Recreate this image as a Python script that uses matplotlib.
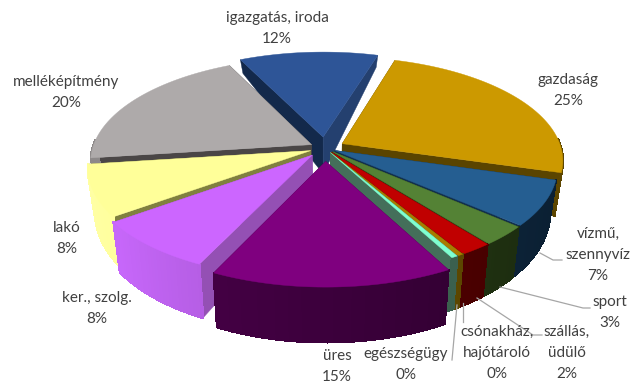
import numpy as np
import matplotlib
matplotlib.use('Agg')
import matplotlib.pyplot as plt
from matplotlib.collections import PolyCollection
from matplotlib.colors import to_rgb

plt.rcParams['font.family'] = ['Lato', 'DejaVu Sans']

# data, clockwise starting from the top slice
names = ['igazgatás, iroda', 'gazdaság', 'vízmű,\nszennyvíz', 'sport', 'szállás,\nüdülő',
         'csónakház,\nhajótároló', 'egészségügy', 'üres', 'ker., szolg.', 'lakó', 'melléképítmény']
values = [12, 25, 7, 3, 2, 0.4, 0.4, 15, 8, 8, 20]
pct_labels = ['12%', '25%', '7%', '3%', '2%', '0%', '0%', '15%', '8%', '8%', '20%']

# styles
top_colors = ['#2E5597', '#CC9900', '#255E91', '#548235', '#C00000', '#A87C00',
              '#7FFFD0', '#7F007F', '#CC66FF', '#FFFF99', '#AEAAAA']
wall_colors = ['#1A3563', '#7F6000', '#0F2B45', '#253A14', '#570000', '#6B5200',
               '#446F5A', '#3C003C', '#A254CC', '#E0DC80', '#6E6B6B']
start_face = ['#13294B', '#5A4400', '#12304C', '#2B4418', '#570000', '#6B5200',
              '#446F5A', '#3C003C', '#9450B4', '#80803F', '#4A4646']
end_face = ['#24406F', '#5A4400', '#12304C', '#2B4418', '#570000', '#6B5200',
            '#446F5A', '#3C003C', '#9450B4', '#80803F', '#4A4646']
explode = [0.11, 0.09, 0.05, 0.05, 0.05, 0.05, 0.05, 0.13, 0.09, 0.07, 0.07]
draw_order = [0, 10, 1, 9, 2, 3, 4, 5, 6, 8, 7]

# projection of the tilted disc
CX, CY = 325, 148
A, B = 219, 101.4
PERSP = 0.156
BOTTOM_SHRINK = 0.97
START_ANGLE = -26

# label centre x, first line y
label_pos = [(277, 18), (568, 80), (598, 234), (610, 302), (567, 332), (497, 332),
             (406, 354), (337, 356), (97, 298), (67, 228), (66, 82)]
LINE_H = 20.8
leaders = [[(540, 253), (553, 260), (562, 260)],
           [(500, 287), (583, 308), (590, 308)],
           [(477, 298), (533, 335), (542, 335)],
           [(463, 303), (463, 322)],
           [(457, 305), (452, 360)]]


def project(u, v, bottom=False):
    w = 1 + PERSP * v
    sx = A * u / w
    sy = -B * v / w
    if bottom:
        # side height shrinks quickly towards the back of the pie
        depth = 39 - 20 * v - 5 * v ** 2
        return CX + sx * BOTTOM_SHRINK, CY + sy + depth
    return CX + sx, CY + sy


def rim(th, off):
    return off[0] + np.sin(th), off[1] + np.cos(th)


def shade(color, f):
    return tuple(min(1, c * f) for c in to_rgb(color))


fig = plt.figure(figsize=(6.38, 3.87), dpi=100)
ax = fig.add_axes([0, 0, 1, 1])
ax.set_xlim(0, 638)
ax.set_ylim(387, 0)
ax.axis('off')

total = sum(values)
edges = START_ANGLE + np.cumsum([0] + values) / total * 360

for k, i in enumerate(draw_order):
    t0, t1 = np.radians(edges[i]), np.radians(edges[i + 1])
    mid = (t0 + t1) / 2
    off = (explode[i] * np.sin(mid), explode[i] * np.cos(mid))
    z = 2 + k
    # the two cut faces
    for th, col in ((t0, start_face[i]), (t1, end_face[i])):
        ru, rv = rim(th, off)
        pts = [project(off[0], off[1]), project(ru, rv),
               project(ru, rv, True), project(off[0], off[1], True)]
        ax.fill(*zip(*pts), color=col, lw=0.3, zorder=z)
    # outer wall as thin strips so it can get darker to the right, front part only
    th = np.linspace(t0, t1, max(3, int(np.degrees(t1 - t0)) + 2))
    strips = []
    cols = []
    for a, b in zip(th[:-1], th[1:]):
        if np.cos((a + b) / 2) > 0.05:
            continue
        ua, va = rim(a, off)
        ub, vb = rim(b, off)
        strips.append([project(ua, va), project(ub, vb),
                       project(ub, vb, True), project(ua, va, True)])
        cols.append(shade(wall_colors[i], 1 - 0.28 * np.sin((a + b) / 2)))
    if strips:
        ax.add_collection(PolyCollection(strips, facecolors=cols, edgecolors=cols,
                                         linewidths=1.0, antialiaseds=False, zorder=z))
    # top
    ru, rv = rim(th, off)
    sx, sy = project(ru, rv)
    ox, oy = project(off[0], off[1])
    ax.fill(np.r_[ox, sx], np.r_[oy, sy], color=top_colors[i], lw=0.3, zorder=z)

for path in leaders:
    ax.plot(*zip(*path), color='#A6A6A6', lw=0.9, zorder=30)

for name, pct, (x, y) in zip(names, pct_labels, label_pos):
    lines = name.split('\n') + [pct]
    for n, line in enumerate(lines):
        ax.text(x, y + n * LINE_H, line, ha='center', va='center', fontsize=11,
                color='#404040', zorder=40)

fig.savefig('out.png', dpi=100)
